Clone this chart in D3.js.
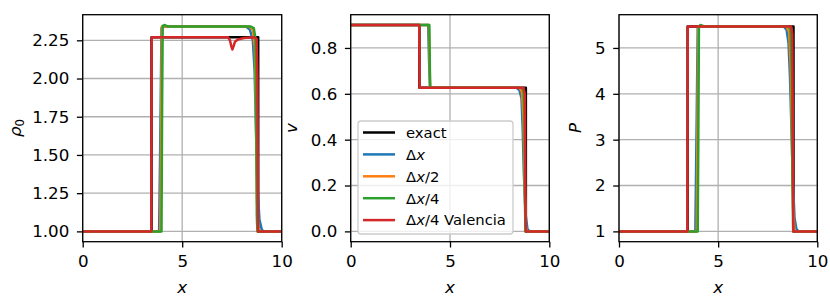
<!DOCTYPE html>
<html>
<head>
<meta charset="utf-8">
<script src="https://cdn.jsdelivr.net/npm/d3@7"></script>
<style>
  body { margin: 0; background: #fff; }
  svg { font-family: "DejaVu Sans", sans-serif; }
</style>
</head>
<body>
<svg id="fig" width="830" height="299"></svg>
<script>
// series names + colours (matplotlib tab10 + black for exact)
const seriesNames = ["exact", "Δx", "Δx/2", "Δx/4", "Δx/4 Valencia"];
const seriesColors = ["#000000", "#1f77b4", "#ff7f0e", "#2ca02c", "#d62728"];

const xTicks = [0, 5, 10];

// rest-mass density rho_0 [x, value]
const rhoExact = [[0,1],[3.46,1],[3.46,2.27],[8.82,2.27],[8.82,1],[10,1]];
const rhoDx = [[0,1],[3.84,1],[3.9,1.6],[3.96,2.33],[4.1,2.34],[8.2,2.34],[8.4,2.32],[8.55,2.25],[8.64,2.05],[8.7,1.7],[8.78,1.3],[8.88,1.08],[9.0,1.01],[9.1,1],[10,1]];
const rhoDx2 = [[0,1],[3.9,1],[3.94,1.7],[3.98,2.34],[8.35,2.34],[8.55,2.32],[8.65,2.2],[8.7,1.8],[8.76,1.2],[8.82,1.02],[8.9,1],[10,1]];
const rhoDx4 = [[0,1],[3.96,1],[3.99,1.8],[4.02,2.345],[4.1,2.35],[4.3,2.34],[8.45,2.34],[8.6,2.33],[8.68,2.26],[8.72,1.8],[8.75,1.1],[8.78,1],[10,1]];
const rhoVal = [[0,1],[3.45,1],[3.47,2.27],[7.3,2.27],[7.4,2.25],[7.47,2.21],[7.52,2.19],[7.58,2.21],[7.65,2.24],[7.8,2.255],[8.1,2.265],[8.6,2.27],[8.74,2.26],[8.78,2.0],[8.81,1.0],[10,1]];
const rhoTicks = [1.00, 1.25, 1.50, 1.75, 2.00, 2.25];

// velocity v
const vExact = [[0,0.9],[3.46,0.9],[3.46,0.626],[8.82,0.626],[8.82,0],[10,0]];
const vDx = [[0,0.9],[3.9,0.9],[3.96,0.7],[4.0,0.626],[8.35,0.626],[8.5,0.615],[8.6,0.58],[8.66,0.45],[8.72,0.25],[8.8,0.08],[8.9,0.01],[9.0,0],[10,0]];
const vDx2 = [[0,0.9],[3.93,0.9],[3.98,0.7],[4.0,0.626],[8.5,0.626],[8.62,0.61],[8.7,0.5],[8.76,0.2],[8.82,0.02],[8.86,0],[10,0]];
const vDx4 = [[0,0.9],[3.96,0.9],[4.0,0.626],[8.6,0.626],[8.7,0.615],[8.75,0.5],[8.78,0.1],[8.8,0],[10,0]];
const vVal = [[0,0.9],[3.45,0.9],[3.47,0.626],[8.7,0.626],[8.77,0.6],[8.8,0.1],[8.82,0],[10,0]];
const vTicks = [0.0, 0.2, 0.4, 0.6, 0.8];

// pressure P
const pExact = [[0,1],[3.46,1],[3.46,5.47],[8.8,5.47],[8.8,1],[10,1]];
const pDx = [[0,1],[3.85,1],[3.92,3.5],[3.97,5.45],[4.1,5.47],[8.3,5.47],[8.45,5.4],[8.55,5.1],[8.62,4.4],[8.68,3.5],[8.76,2.2],[8.85,1.3],[8.95,1.05],[9.05,1],[10,1]];
const pDx2 = [[0,1],[3.92,1],[3.97,4],[4.0,5.47],[8.45,5.47],[8.58,5.35],[8.66,4.6],[8.72,3],[8.78,1.5],[8.85,1.02],[8.9,1],[10,1]];
const pDx4 = [[0,1],[3.97,1],[4.0,3],[4.03,5.46],[4.1,5.5],[4.25,5.48],[4.45,5.47],[8.55,5.47],[8.65,5.4],[8.71,4.5],[8.75,2],[8.78,1.05],[8.8,1],[10,1]];
const pVal = [[0,1],[3.45,1],[3.47,5.47],[8.68,5.47],[8.74,5.3],[8.77,3],[8.79,1],[10,1]];
const pTicks = [1, 2, 3, 4, 5];

const fs = 16.7;     // tick / label font size
const lw = 2.5;      // line width 1.5pt
const plotTop = 14.7, plotBottom = 241.7;

let panels = [
  { left: 82.7, right: 281.7, series: [rhoExact, rhoDx, rhoDx2, rhoDx4, rhoVal], ticks: rhoTicks, fmt: d3.format(".2f"), label: "rho", labelX: 21 },
  { left: 350.7, right: 549.3, series: [vExact, vDx, vDx2, vDx4, vVal], ticks: vTicks, fmt: d3.format(".1f"), label: "v", labelX: 297 },
  { left: 619, right: 817.3, series: [pExact, pDx, pDx2, pDx4, pVal], ticks: pTicks, fmt: d3.format("d"), label: "P", labelX: 581 }
];

let svg = d3.select("#fig");
svg.append("rect").attr("width", 830).attr("height", 299).attr("fill", "#fff");

panels.forEach((p, pi) => {
  let x = d3.scaleLinear().domain([0, 10]).range([p.left, p.right]);
  // matplotlib style 5% margins on y
  let all = p.series.flat().map(d => d[1]);
  let lo = d3.min(all), hi = d3.max(all);
  let m = 0.05 * (hi - lo);
  let y = d3.scaleLinear().domain([lo - m, hi + m]).range([plotBottom, plotTop]);

  let g = svg.append("g");

  // grid
  g.selectAll(".gx").data(xTicks).enter().append("line")
    .attr("x1", d => x(d)).attr("x2", d => x(d))
    .attr("y1", plotTop).attr("y2", plotBottom)
    .attr("stroke", "#b0b0b0").attr("stroke-width", 1.3);
  g.selectAll(".gy").data(p.ticks).enter().append("line")
    .attr("x1", p.left).attr("x2", p.right)
    .attr("y1", d => y(d)).attr("y2", d => y(d))
    .attr("stroke", "#b0b0b0").attr("stroke-width", 1.3);

  // lines
  let clipId = "clip" + pi;
  svg.append("clipPath").attr("id", clipId).append("rect")
    .attr("x", p.left).attr("y", plotTop)
    .attr("width", p.right - p.left).attr("height", plotBottom - plotTop);
  let line = d3.line().x(d => x(d[0])).y(d => y(d[1]));
  g.append("g").attr("clip-path", `url(#${clipId})`)
    .selectAll("path").data(p.series).enter().append("path")
    .attr("d", line)
    .attr("fill", "none")
    .attr("stroke", (d, i) => seriesColors[i])
    .attr("stroke-width", lw)
    .attr("stroke-linejoin", "round")
    .attr("stroke-linecap", "square");

  // axes
  let ax = g.append("g").attr("transform", `translate(0,${plotBottom})`)
    .call(d3.axisBottom(x).tickValues(xTicks).tickFormat(d3.format("d")).tickSizeInner(5.8).tickSizeOuter(0).tickPadding(7.5));
  let ay = g.append("g").attr("transform", `translate(${p.left},0)`)
    .call(d3.axisLeft(y).tickValues(p.ticks).tickFormat(p.fmt).tickSizeInner(5.8).tickSizeOuter(0).tickPadding(7.6));
  [ax, ay].forEach(a => {
    a.select(".domain").remove();
    a.selectAll("line").attr("stroke", "#000").attr("stroke-width", 1.3);
    a.selectAll("text").attr("font-size", fs).attr("font-family", "DejaVu Sans").attr("fill", "#000");
  });

  // spines
  g.append("rect")
    .attr("x", p.left).attr("y", plotTop)
    .attr("width", p.right - p.left).attr("height", plotBottom - plotTop)
    .attr("fill", "none").attr("stroke", "#000").attr("stroke-width", 1.3);

  // x label
  g.append("text")
    .attr("x", (p.left + p.right) / 2).attr("y", 293)
    .attr("text-anchor", "middle").attr("font-size", fs)
    .attr("font-style", "italic").text("x");

  // y label
  let yl = g.append("text")
    .attr("transform", `translate(${p.labelX},128) rotate(-90)`)
    .attr("text-anchor", "middle").attr("font-size", fs);
  if (p.label === "rho") {
    yl.append("tspan").attr("font-style", "italic").text("ρ");
    yl.append("tspan").attr("font-size", fs * 0.7).attr("dy", 3).text("0");
  } else {
    yl.attr("font-style", "italic").text(p.label);
  }
});

// legend in the middle panel
let lg = svg.append("g");
lg.append("rect")
  .attr("x", 358).attr("y", 121).attr("width", 155).attr("height", 113)
  .attr("rx", 3).attr("fill", "#fff").attr("fill-opacity", 0.8)
  .attr("stroke", "#cccccc").attr("stroke-width", 1.3);
let rows = lg.selectAll(".row").data(seriesNames).enter().append("g")
  .attr("transform", (d, i) => `translate(0,${132.5 + i * 21.9})`);
rows.append("line")
  .attr("x1", 363).attr("x2", 395)
  .attr("stroke", (d, i) => seriesColors[i]).attr("stroke-width", lw);
rows.append("text")
  .attr("x", 406).attr("dy", "0.36em").attr("font-size", 14.8)
  .each(function (d) {
    let t = d3.select(this);
    if (d === "exact") { t.text(d); return; }
    // mathtext: upright Delta, italic x
    let rest = d.slice(2);
    t.append("tspan").text("Δ");
    t.append("tspan").attr("font-style", "italic").text("x");
    if (rest) t.append("tspan").text(rest);
  });
</script>
</body>
</html>
